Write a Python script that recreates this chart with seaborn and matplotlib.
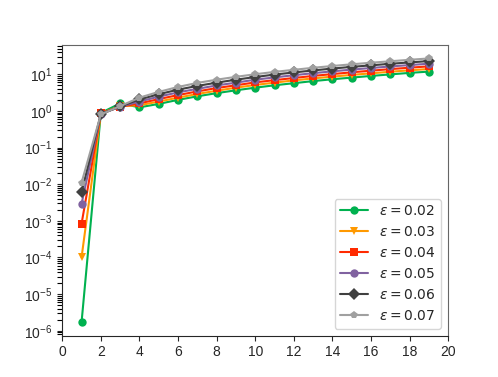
import matplotlib
matplotlib.use("Agg")
import matplotlib.pyplot as plt
from matplotlib.ticker import LogLocator, NullFormatter
import seaborn as sns
import pandas as pd

iters = list(range(1, 20))

eps_002 = [1.7e-6, 0.88, 1.6, 1.25, 1.55, 2.0, 2.5, 3.05, 3.65, 4.3, 5.0, 5.7, 6.5, 7.3, 8.1, 9.0, 9.9, 10.9, 11.8]
eps_003 = [1.0e-4, 0.86, 1.35, 1.42, 1.8, 2.3, 2.9, 3.55, 4.3, 5.1, 5.9, 6.8, 7.7, 8.6, 9.6, 10.6, 11.7, 12.8, 13.9]
eps_004 = [8.3e-4, 0.85, 1.3, 1.6, 2.1, 2.7, 3.4, 4.2, 5.0, 6.0, 6.9, 7.9, 9.0, 10.1, 11.3, 12.5, 13.8, 15.1, 16.4]
eps_005 = [2.9e-3, 0.83, 1.3, 1.8, 2.45, 3.2, 4.0, 4.95, 5.9, 7.1, 8.2, 9.4, 10.7, 12.0, 13.4, 14.8, 16.3, 17.8, 19.4]
eps_006 = [6.0e-3, 0.82, 1.32, 2.05, 2.85, 3.8, 4.8, 5.9, 7.1, 8.4, 9.8, 11.2, 12.7, 14.3, 15.9, 17.5, 19.3, 21.0, 22.9]
eps_007 = [1.1e-2, 0.8, 1.35, 2.3, 3.3, 4.5, 5.8, 7.1, 8.5, 10.0, 11.6, 13.2, 15.0, 16.8, 18.7, 20.6, 22.6, 24.8, 27.0]

labels = [r"$\varepsilon = 0.02$", r"$\varepsilon = 0.03$", r"$\varepsilon = 0.04$",
          r"$\varepsilon = 0.05$", r"$\varepsilon = 0.06$", r"$\varepsilon = 0.07$"]
series = [eps_002, eps_003, eps_004, eps_005, eps_006, eps_007]
colors = ["#00b14f", "#ff9900", "#ff2a00", "#8062a0", "#404040", "#a0a0a0"]
markers = ["o", "v", "s", "o", "D", "p"]

rows = []
for lab, vals in zip(labels, series):
    for x, v in zip(iters, vals):
        rows.append({"x": x, "value": v, "eps": lab})
df = pd.DataFrame(rows)

sns.set_style("ticks")
plt.rcParams["font.family"] = ["Liberation Sans", "DejaVu Sans"]
plt.rcParams["mathtext.fontset"] = "dejavusans"
plt.rcParams["ytick.minor.visible"] = True

fig, ax = plt.subplots(figsize=(4.98, 3.77), dpi=100)
sns.lineplot(data=df, x="x", y="value", hue="eps", style="eps",
             palette=dict(zip(labels, colors)), markers=dict(zip(labels, markers)),
             dashes=False, markersize=6, linewidth=1.5, markeredgewidth=0, ax=ax)

ax.set_yscale("log")
ax.yaxis.set_major_locator(LogLocator(base=10, numticks=20))
ax.yaxis.set_minor_locator(LogLocator(base=10, subs=[2, 3, 4, 5, 6, 7, 8, 9], numticks=200))
ax.yaxis.set_minor_formatter(NullFormatter())
ax.tick_params(axis="y", which="minor", left=True, length=3.5, width=0.8, color="black")
ax.set_xlim(0, 20)
ax.set_xticks(range(0, 21, 2))
ax.set(xlabel=None, ylabel=None)
ax.tick_params(labelsize=10)
for side in ["top", "right"]:
    ax.spines[side].set_color("#666666")
ax.legend(loc="lower right", fontsize=10, title=None)

plt.savefig("out.png", dpi=100)
